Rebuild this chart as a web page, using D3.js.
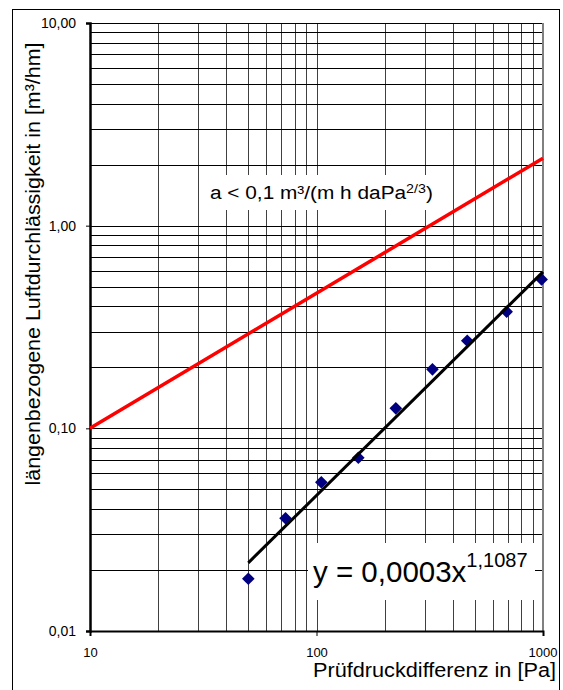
<!DOCTYPE html>
<html>
<head>
<meta charset="utf-8">
<script src="https://cdn.jsdelivr.net/npm/d3@7"></script>
<style>
  body { margin: 0; background: #fff; }
  svg text { font-family: Arial, "Liberation Sans", sans-serif; fill: #000; }
</style>
</head>
<body>
<div id="chart"></div>
<script>
// measured points (Prüfdruck in Pa, Luftdurchlässigkeit in m³/hm)
const pressure = [50, 73, 105, 153, 224, 325, 463, 691, 986]
const leakage = [0.0181, 0.036, 0.0542, 0.0716, 0.1255, 0.1954, 0.2704, 0.376, 0.543]

// power trend line
const trendX = [50, 1000]
const trendY = [0.0217, 0.592]

// limit a < 0,1 m³/(m h daPa^2/3)
const limitX = [10, 100, 1000]
const limitY = [0.1, 0.464, 2.154]

const xTicks = [10, 100, 1000]
const xTickLabels = ["10", "100", "1000"]
const yTicks = [0.01, 0.1, 1, 10]
const yTickLabels = ["0,01", "0,10", "1,00", "10,00"]

const W = 563, H = 690
const plotLeft = 90, plotRight = 543, plotTop = 23, plotBottom = 631

const svg = d3.select("#chart").append("svg")
    .attr("width", W).attr("height", H)

// outer chart frame
svg.append("rect")
    .attr("x", 12.5).attr("y", 9.5)
    .attr("width", 547).attr("height", 700)
    .attr("fill", "#fff").attr("stroke", "#000").attr("stroke-width", 1)

let x = d3.scaleLog().domain([10, 1000]).range([plotLeft, plotRight])
let y = d3.scaleLog().domain([0.01, 10]).range([plotBottom, plotTop])

// grid
let grid = svg.append("g")
grid.selectAll(".gx")
    .data(x.ticks())
    .enter().append("line")
    .attr("x1", d => Math.round(x(d)) + 0.5).attr("x2", d => Math.round(x(d)) + 0.5)
    .attr("y1", plotTop).attr("y2", plotBottom)
    .attr("stroke", "#404040").attr("stroke-width", 1)
grid.selectAll(".gy")
    .data(y.ticks())
    .enter().append("line")
    .attr("x1", plotLeft).attr("x2", plotRight)
    .attr("y1", d => Math.round(y(d)) + 0.5).attr("y2", d => Math.round(y(d)) + 0.5)
    .attr("stroke", "#000").attr("stroke-width", 1)

// plot area border
svg.append("line")
    .attr("x1", plotRight).attr("x2", plotRight).attr("y1", plotTop).attr("y2", plotBottom)
    .attr("stroke", "#808080").attr("stroke-width", 2)

// text boxes (white background covering the grid)
function labelBox(x0, y0, w, h) {
    svg.append("rect")
        .attr("x", x0).attr("y", y0).attr("width", w).attr("height", h)
        .attr("fill", "#fff")
}
labelBox(200, 175, 240, 35)
labelBox(308, 543, 227, 57)

// axes
let yAxis = d3.axisLeft(y)
    .tickValues(yTicks)
    .tickFormat((d, i) => yTickLabels[i])
    .tickSize(4).tickPadding(10)
let yg = svg.append("g").attr("transform", `translate(${plotLeft},0)`).call(yAxis)
yg.select(".domain").attr("stroke-width", 2.5)
yg.selectAll("text").attr("font-size", 14).attr("font-family", null)

let xAxis = d3.axisBottom(x)
    .tickValues(xTicks)
    .tickFormat((d, i) => xTickLabels[i])
    .tickSize(5).tickPadding(12)
let xg = svg.append("g").attr("transform", `translate(0,${plotBottom})`).call(xAxis)
xg.select(".domain").attr("stroke-width", 2)
xg.selectAll("text").attr("font-size", 13).attr("font-family", null)
xg.selectAll(".tick").filter(d => d === 1000).select("text")
    .attr("text-anchor", "end").attr("x", 14)

// limit line
let line = d3.line().x(d => x(d[0])).y(d => y(d[1]))
svg.append("path")
    .attr("d", line(d3.zip(limitX, limitY)))
    .attr("fill", "none").attr("stroke", "#ff0000").attr("stroke-width", 3.5)

// markers
let diamond = d3.symbol().type(d3.symbolSquare).size(80)
svg.selectAll(".pt")
    .data(d3.zip(pressure, leakage))
    .enter().append("path")
    .attr("d", diamond)
    .attr("transform", d => `translate(${x(d[0])},${y(d[1])}) rotate(45)`)
    .attr("fill", "#000080")

// trend line
svg.append("path")
    .attr("d", line(d3.zip(trendX, trendY)))
    .attr("fill", "none").attr("stroke", "#000").attr("stroke-width", 3)

// fit a text horizontally to a measured width
function fitWidth(sel, target) {
    sel.attr("textLength", target).attr("lengthAdjust", "spacingAndGlyphs")
}

// annotation: limit
let ann = svg.append("text").attr("x", 210).attr("y", 199).attr("font-size", 19)
ann.append("tspan").text("a < 0,1 m³/(m h daPa")
ann.append("tspan").attr("font-size", 13).attr("dy", -6).text("2/3")
ann.append("tspan").attr("dy", 6).text(")")
let aw = ann.node().getBBox().width
ann.attr("transform", `translate(210,0) scale(${223 / aw},1) translate(-210,0)`)

// annotation: equation
let eq = svg.append("text").attr("x", 313).attr("y", 582).attr("font-size", 29.5)
eq.append("tspan").text("y = 0,0003x")
eq.append("tspan").attr("font-size", 20).attr("dy", -15).text("1,1087")

// axis titles
let xt = svg.append("text")
    .attr("x", 556).attr("y", 677)
    .attr("text-anchor", "end").attr("font-size", 20)
    .text("Prüfdruckdifferenz in [Pa]")
fitWidth(xt, 243)

let yt = svg.append("text")
    .attr("transform", "translate(39.5,264) rotate(-90)")
    .attr("text-anchor", "middle").attr("font-size", 20)
    .text("längenbezogene Luftdurchlässigkeit in [m³/hm]")
fitWidth(yt, 443)
</script>
</body>
</html>
